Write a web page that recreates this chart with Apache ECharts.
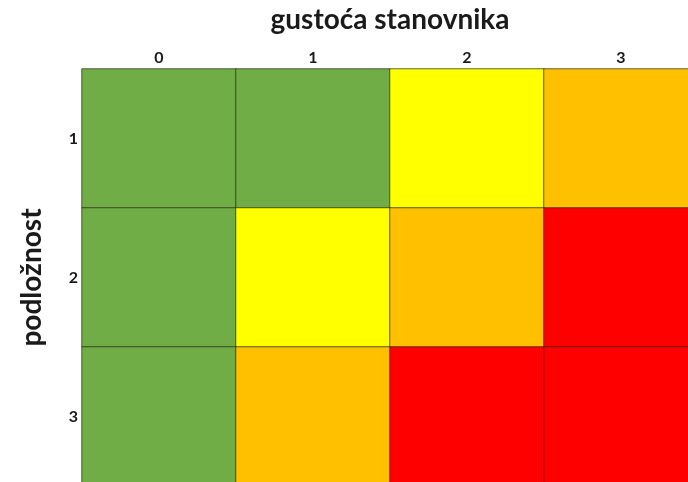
<!DOCTYPE html>
<html lang="en">
<head>
<meta charset="UTF-8" />
<title>gustoća stanovnika</title>
<script src="https://cdn.jsdelivr.net/npm/echarts@6/dist/echarts.min.js"></script>
<style>
  html, body { margin: 0; padding: 0; background: #fff; }
</style>
</head>
<body>
<div id="main" style="width:688px;height:482px;"></div>
<script>
// stupci (gustoća) i retci (podložnost)
var gustoca = ['0', '1', '2', '3'];
var podloznost = ['1', '2', '3'];
// razina rizika po retku: 0 zeleno, 1 žuto, 2 narančasto, 3 crveno
var red1 = [0, 0, 1, 2];
var red2 = [0, 1, 2, 3];
var red3 = [0, 2, 3, 3];
var boje = ['#70ad47', '#ffff00', '#ffc000', '#ff0000'];

var data = [];
[red1, red2, red3].forEach(function (row, y) {
  row.forEach(function (v, x) { data.push([x, y, v]); });
});

var chart = echarts.init(document.getElementById('main'));
chart.setOption({
  animation: false,
  grid: { left: 82, top: 69, width: 616, height: 417, outerBoundsMode: 'none', containLabel: false },
  xAxis: {
    type: 'category',
    position: 'top',
    data: gustoca,
    name: 'gustoća stanovnika',
    nameLocation: 'middle',
    nameGap: 35,
    nameTextStyle: { fontFamily: 'Lato', fontWeight: 'bold', fontSize: 28, color: '#1a1a1a' },
    axisLine: { show: false },
    axisTick: { show: false },
    axisLabel: { fontFamily: 'Lato', fontWeight: 'bold', fontSize: 16, color: '#1a1a1a', margin: 3 },
    splitArea: { show: false }
  },
  yAxis: {
    type: 'category',
    inverse: true,
    data: podloznost,
    name: 'podložnost',
    nameLocation: 'middle',
    nameGap: 36,
    nameRotate: 90,
    nameTextStyle: { fontFamily: 'Lato', fontWeight: 'bold', fontSize: 28, color: '#1a1a1a' },
    axisLine: { show: false },
    axisTick: { show: false },
    axisLabel: { fontFamily: 'Lato', fontWeight: 'bold', fontSize: 16, color: '#1a1a1a', margin: 4 }
  },
  visualMap: {
    show: false,
    type: 'piecewise',
    dimension: 2,
    pieces: boje.map(function (c, i) { return { value: i, color: c }; })
  },
  series: [{
    type: 'heatmap',
    data: data,
    itemStyle: { borderColor: 'rgba(40,40,20,0.7)', borderWidth: 1 },
    emphasis: { disabled: true }
  }]
});
</script>
</body>
</html>
